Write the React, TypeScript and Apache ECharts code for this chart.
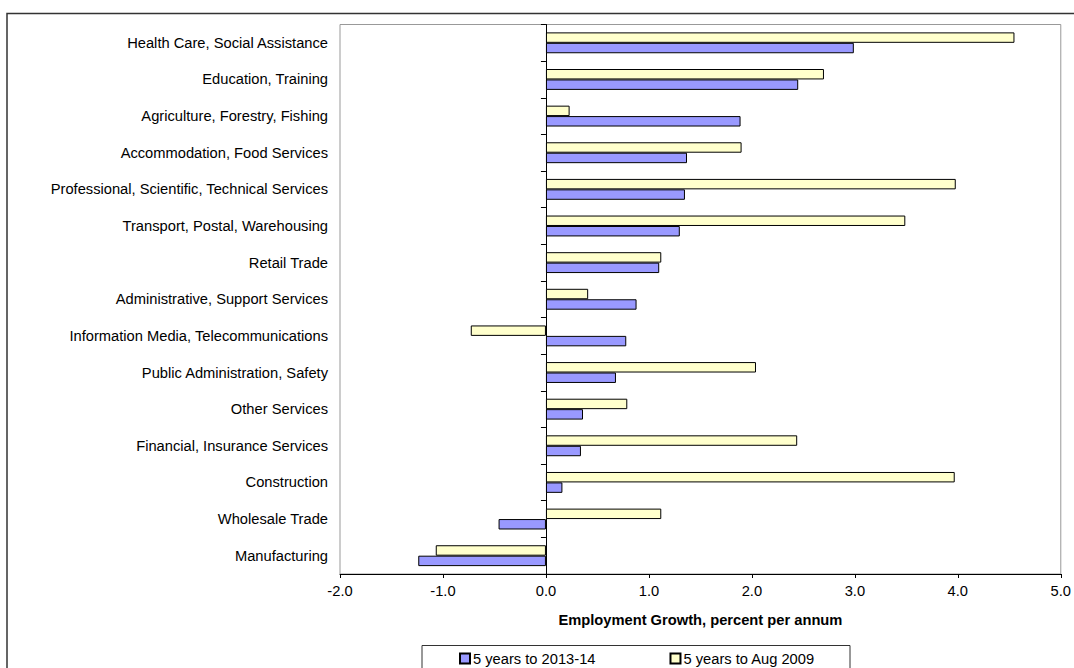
import React, { useEffect, useRef } from "react";
import * as echarts from "echarts";

const categories = [
  "Health Care, Social Assistance",
  "Education, Training",
  "Agriculture, Forestry, Fishing",
  "Accommodation, Food Services",
  "Professional, Scientific, Technical Services",
  "Transport, Postal, Warehousing",
  "Retail Trade",
  "Administrative, Support Services",
  "Information Media, Telecommunications",
  "Public Administration, Safety",
  "Other Services",
  "Financial, Insurance Services",
  "Construction",
  "Wholesale Trade",
  "Manufacturing",
];

const growth2013_14 = [2.99, 2.45, 1.89, 1.37, 1.35, 1.3, 1.1, 0.88, 0.78, 0.68, 0.36, 0.34, 0.16, -0.46, -1.24];
const growthAug2009 = [4.55, 2.7, 0.23, 1.9, 3.98, 3.49, 1.12, 0.41, -0.73, 2.04, 0.79, 2.44, 3.97, 1.12, -1.07];

const seriesNames = ["5 years to 2013-14", "5 years to Aug 2009"];
const xTicks = { min: -2, max: 5, interval: 1 };

const FONT = "'Liberation Sans', Arial, sans-serif";
const FS = 14.7;

export default function App() {
  const ref = useRef<HTMLDivElement>(null);
  useEffect(() => {
    if (!ref.current) return;
    const chart = echarts.init(ref.current, null, { renderer: "svg" });
    chart.setOption({
      animation: false,
      backgroundColor: "#ffffff",
      textStyle: { fontFamily: FONT },
      graphic: [
        {
          type: "rect",
          shape: { x: 7, y: 13.5, width: 1100, height: 700 },
          style: { fill: "none", stroke: "#333", lineWidth: 1.5 },
          z: 100,
        },
        {
          type: "rect",
          shape: { x: 422, y: 645.5, width: 428, height: 40 },
          style: { fill: "#fff", stroke: "#333", lineWidth: 1 },
          z: 0,
        },
      ],
      legend: {
        data: seriesNames,
        left: 459,
        top: 651,
        itemWidth: 10,
        itemHeight: 10,
        itemGap: 74,
        icon: "rect",
        padding: 0,
        textStyle: { fontSize: FS, color: "#000", fontFamily: FONT, padding: [0, 0, 0, -2] },
      },
      grid: {
        left: 340,
        right: 12,
        top: 24.5,
        bottom: 94,
        show: true,
        borderColor: "#999",
        borderWidth: 1,
        backgroundColor: "#fff",
      },
      xAxis: {
        type: "value",
        min: xTicks.min,
        max: xTicks.max,
        interval: xTicks.interval,
        splitLine: { show: false },
        axisLine: { show: true, onZero: false, lineStyle: { color: "#000", width: 1 } },
        axisTick: { show: true, length: 4, lineStyle: { color: "#000" } },
        axisLabel: {
          fontSize: FS,
          color: "#000",
          margin: 9,
          formatter: (v: number) => v.toFixed(1),
        },
        name: "Employment Growth, percent per annum",
        nameLocation: "middle",
        nameGap: 38,
        nameTextStyle: { fontSize: FS, fontWeight: "bold", color: "#000" },
      },
      yAxis: [
        {
          type: "category",
          data: categories,
          inverse: true,
          axisLine: { show: false, onZero: false },
          axisTick: { show: false },
          axisLabel: { fontSize: FS, color: "#000", margin: 12 },
        },
        {
          type: "category",
          data: categories,
          inverse: true,
          position: "left",
          axisLine: { show: true, onZero: true, lineStyle: { color: "#000", width: 1 } },
          axisTick: { show: true, length: 5, lineStyle: { color: "#000" } },
          axisLabel: { show: false },
        },
      ],
      series: [
        {
          name: seriesNames[1],
          type: "bar",
          yAxisIndex: 0,
          data: growthAug2009,
          barGap: "0%",
          barCategoryGap: "43%",
          itemStyle: { color: "#FFFFCC", borderColor: "#000", borderWidth: 1 },
        },
        {
          name: seriesNames[0],
          type: "bar",
          yAxisIndex: 0,
          data: growth2013_14,
          barGap: "0%",
          barCategoryGap: "43%",
          itemStyle: { color: "#9999FF", borderColor: "#000", borderWidth: 1 },
        },
      ],
    });
    return () => chart.dispose();
  }, []);
  return (
    <div
      ref={ref}
      style={{ position: "fixed", left: 0, top: 0, width: 1074, height: 668 }}
    />
  );
}
